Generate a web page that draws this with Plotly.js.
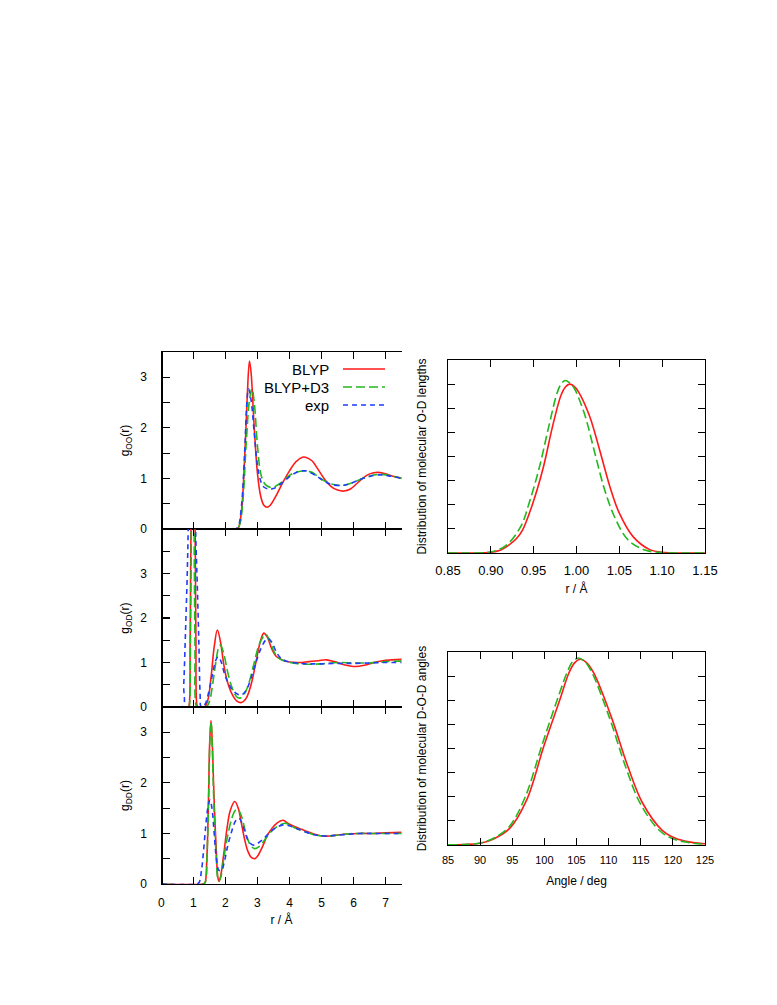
<!DOCTYPE html>
<html>
<head>
<meta charset="utf-8">
<script src="https://cdn.plot.ly/plotly-3.0.1.min.js"></script>
<style>html,body{margin:0;padding:0;background:#fff;}#chart{width:777px;height:1005px;}</style>
</head>
<body>
<div id="chart"></div>
<script>
// ---------- data ----------
const seriesNames = ['BLYP', 'BLYP+D3', 'exp'];

// g_OO(r)
const rOO_blyp = [0, 2.3, 2.4, 2.5, 2.6, 2.68, 2.75, 2.8, 2.9, 3.0, 3.1, 3.2, 3.3, 3.4, 3.6, 3.8, 4.0, 4.2, 4.4, 4.5, 4.7, 4.9, 5.1, 5.3, 5.5, 5.7, 5.9, 6.1, 6.3, 6.5, 6.75, 7.0, 7.2, 7.5];
const gOO_blyp = [0, 0, 0.02, 0.35, 1.4, 2.6, 3.32, 3.1, 2.0, 1.1, 0.65, 0.47, 0.43, 0.47, 0.68, 0.93, 1.15, 1.33, 1.42, 1.42, 1.35, 1.17, 0.98, 0.84, 0.77, 0.75, 0.79, 0.9, 1.01, 1.09, 1.12, 1.09, 1.05, 1.01];
const rOO_d3 = [0, 2.35, 2.45, 2.55, 2.65, 2.75, 2.83, 2.9, 3.0, 3.1, 3.2, 3.3, 3.45, 3.6, 3.8, 4.0, 4.2, 4.45, 4.7, 4.9, 5.1, 5.3, 5.6, 5.9, 6.2, 6.5, 6.8, 7.1, 7.5];
const gOO_d3 = [0, 0, 0.1, 0.6, 1.7, 2.55, 2.77, 2.5, 1.65, 1.1, 0.92, 0.85, 0.82, 0.86, 0.95, 1.06, 1.12, 1.15, 1.12, 1.03, 0.95, 0.89, 0.86, 0.9, 0.98, 1.05, 1.08, 1.06, 1.0];
const rOO_exp = [0, 2.3, 2.4, 2.5, 2.6, 2.67, 2.72, 2.8, 2.9, 3.0, 3.1, 3.2, 3.35, 3.5, 3.7, 3.9, 4.1, 4.3, 4.5, 4.7, 4.9, 5.1, 5.3, 5.6, 5.9, 6.2, 6.5, 6.8, 7.1, 7.5];
const gOO_exp = [0, 0, 0.05, 0.45, 1.5, 2.5, 2.77, 2.55, 1.9, 1.25, 0.95, 0.83, 0.79, 0.8, 0.88, 0.98, 1.08, 1.14, 1.15, 1.1, 1.02, 0.94, 0.88, 0.86, 0.9, 0.98, 1.04, 1.07, 1.05, 1.0];

// g_OD(r)
const rOD_blyp = [0, 0.84, 0.87, 0.9, 0.93, 0.97, 0.99, 1.01, 1.05, 1.08, 1.11, 1.14, 1.35, 1.45, 1.55, 1.65, 1.75, 1.85, 1.95, 2.05, 2.2, 2.35, 2.5, 2.65, 2.8, 2.95, 3.1, 3.2, 3.3, 3.45, 3.6, 3.8, 4.0, 4.3, 4.6, 4.9, 5.15, 5.4, 5.7, 6.05, 6.35, 6.7, 7.0, 7.5];
const gOD_blyp = [0, 0, 0.05, 1.5, 4.5, 15, 18, 15, 4.5, 1.5, 0.05, 0, 0, 0.15, 0.65, 1.35, 1.73, 1.45, 0.95, 0.6, 0.3, 0.14, 0.1, 0.2, 0.5, 1.0, 1.5, 1.66, 1.58, 1.3, 1.13, 1.05, 1.01, 1.0, 1.02, 1.04, 1.06, 1.02, 0.95, 0.91, 0.94, 1.01, 1.05, 1.07];
const rOD_d3 = [0, 0.86, 0.88, 0.91, 0.94, 0.98, 1.02, 1.05, 1.08, 1.12, 1.4, 1.5, 1.6, 1.7, 1.8, 1.85, 1.95, 2.05, 2.2, 2.35, 2.45, 2.6, 2.75, 2.9, 3.05, 3.2, 3.27, 3.4, 3.55, 3.7, 3.9, 4.2, 4.6, 5.0, 5.5, 6.0, 6.5, 7.0, 7.5];
const gOD_d3 = [0, 0, 0.05, 1.5, 4.5, 18, 4.5, 1.5, 0.05, 0, 0, 0.12, 0.5, 1.0, 1.36, 1.39, 1.2, 0.85, 0.45, 0.23, 0.2, 0.3, 0.58, 1.0, 1.4, 1.6, 1.63, 1.45, 1.2, 1.08, 1.02, 0.98, 0.96, 0.97, 1.0, 0.99, 0.99, 1.02, 1.03];
const rOD_exp = [0, 0.66, 0.7, 0.76, 0.81, 0.84, 0.96, 1.07, 1.12, 1.17, 1.21, 1.24, 1.3, 1.38, 1.5, 1.6, 1.7, 1.77, 1.85, 1.95, 2.05, 2.2, 2.35, 2.5, 2.65, 2.8, 2.95, 3.1, 3.25, 3.33, 3.45, 3.6, 3.75, 3.9, 4.2, 4.6, 5.0, 5.5, 6.0, 6.5, 7.0, 7.5];
const gOD_exp = [0, 0, 0.5, 1.8, 3.0, 4.0, 9.0, 4.0, 2.8, 1.5, 0.3, 0, 0, 0.08, 0.4, 0.75, 1.05, 1.13, 1.05, 0.8, 0.6, 0.4, 0.3, 0.27, 0.38, 0.65, 1.0, 1.3, 1.5, 1.54, 1.45, 1.22, 1.08, 1.03, 0.99, 0.97, 0.97, 0.98, 0.98, 0.99, 1.0, 1.0];

// g_DD(r)
const rDD_blyp = [0, 1.3, 1.36, 1.42, 1.47, 1.51, 1.55, 1.59, 1.63, 1.67, 1.72, 1.76, 1.8, 1.85, 1.95, 2.05, 2.15, 2.29, 2.4, 2.5, 2.6, 2.7, 2.8, 2.91, 3.0, 3.15, 3.3, 3.45, 3.6, 3.8, 3.95, 4.1, 4.3, 4.5, 4.75, 5.0, 5.25, 5.5, 5.8, 6.2, 6.6, 7.0, 7.5];
const gDD_blyp = [0, 0, 0.02, 0.5, 1.6, 2.8, 3.23, 2.8, 2.0, 1.3, 0.6, 0.15, 0.05, 0.15, 0.6, 1.1, 1.45, 1.63, 1.5, 1.2, 0.88, 0.65, 0.53, 0.5, 0.55, 0.73, 0.95, 1.1, 1.2, 1.26, 1.2, 1.15, 1.1, 1.05, 0.99, 0.95, 0.95, 0.97, 0.99, 1.0, 1.0, 1.01, 1.02];
const rDD_d3 = [0, 1.32, 1.38, 1.43, 1.48, 1.52, 1.555, 1.59, 1.63, 1.67, 1.72, 1.76, 1.8, 1.86, 1.96, 2.07, 2.2, 2.3, 2.38, 2.48, 2.6, 2.7, 2.8, 2.91, 3.05, 3.2, 3.4, 3.6, 3.85, 4.0, 4.2, 4.5, 4.8, 5.1, 5.4, 5.8, 6.2, 6.6, 7.0, 7.5];
const gDD_d3 = [0, 0, 0.05, 0.6, 1.8, 2.9, 3.2, 2.7, 1.8, 1.1, 0.45, 0.12, 0.06, 0.15, 0.55, 0.95, 1.3, 1.45, 1.48, 1.38, 1.1, 0.88, 0.75, 0.7, 0.74, 0.85, 1.02, 1.13, 1.2, 1.17, 1.1, 1.03, 0.97, 0.95, 0.96, 0.99, 1.0, 1.0, 1.0, 1.0];
const rDD_exp = [0, 1.1, 1.18, 1.25, 1.31, 1.38, 1.45, 1.52, 1.58, 1.65, 1.72, 1.8, 1.88, 1.97, 2.07, 2.2, 2.32, 2.42, 2.52, 2.62, 2.72, 2.86, 3.0, 3.2, 3.4, 3.6, 3.8, 4.0, 4.2, 4.5, 4.8, 5.1, 5.4, 5.8, 6.2, 6.6, 7.0, 7.5];
const gDD_exp = [0, 0, 0.03, 0.25, 0.6, 1.1, 1.5, 1.66, 1.5, 1.0, 0.5, 0.27, 0.27, 0.45, 0.75, 1.05, 1.25, 1.3, 1.2, 1.0, 0.85, 0.77, 0.8, 0.9, 1.03, 1.12, 1.17, 1.15, 1.1, 1.03, 0.97, 0.95, 0.96, 0.98, 1.0, 1.0, 1.0, 1.0];

// O-D bond length distribution (arbitrary units)
const len_blyp = [0.85, 0.88, 0.9, 0.91, 0.921, 0.93, 0.937, 0.949, 0.961, 0.972, 0.982, 0.987, 0.992, 0.997, 1.002, 1.015, 1.027, 1.039, 1.05, 1.066, 1.085, 1.103, 1.12, 1.15];
const pLen_blyp = [0, 0, 0.03, 0.1, 0.33, 0.6, 0.95, 2.06, 3.51, 5.24, 6.55, 6.88, 7.0, 6.92, 6.7, 5.7, 4.27, 2.75, 1.65, 0.68, 0.15, 0.02, 0, 0];
const len_d3 = [0.85, 0.88, 0.895, 0.908, 0.92, 0.935, 0.945, 0.957, 0.968, 0.978, 0.983, 0.987, 0.992, 0.997, 1.009, 1.021, 1.033, 1.045, 1.06, 1.08, 1.1, 1.12, 1.15];
const pLen_d3 = [0, 0, 0.02, 0.12, 0.38, 1.1, 2.1, 3.6, 5.3, 6.7, 7.05, 7.15, 7.05, 6.85, 5.8, 4.2, 2.6, 1.45, 0.55, 0.12, 0.02, 0, 0];

// D-O-D angle distribution (arbitrary units)
const ang_blyp = [85, 87.5, 90, 92, 94.6, 97.25, 99.9, 102.5, 103.8, 104.7, 105.6, 106.6, 107.7, 110.4, 113.0, 115.3, 118.3, 120.4, 122.5, 125];
const pAng_blyp = [0.005, 0.02, 0.07, 0.24, 0.69, 1.87, 4.08, 6.09, 7.12, 7.55, 7.7, 7.55, 7.12, 5.32, 3.25, 1.73, 0.62, 0.28, 0.13, 0.05];
const ang_d3 = [85, 87.5, 90, 92, 94.5, 97, 99.7, 102.3, 103.6, 104.4, 105.3, 106.3, 107.4, 110.1, 112.7, 115.0, 118.0, 120.2, 122.5, 125];
const pAng_d3 = [0.005, 0.02, 0.08, 0.27, 0.75, 1.98, 4.2, 6.25, 7.2, 7.6, 7.75, 7.6, 7.15, 5.3, 3.2, 1.68, 0.58, 0.24, 0.1, 0.03];

const leftYLabelled = [0, 1, 2, 3];
const lenTicks = [0.85, 0.90, 0.95, 1.00, 1.05, 1.10, 1.15];
const lenTickText = ['0.85', '0.90', '0.95', '1.00', '1.05', '1.10', '1.15'];

// ---------- styles ----------
const colors = ['#ff1a1a', '#22b81e', '#1f3cff'];
const dashes = ['solid', '9px,4px', '5px,4px'];
const FONT = 'Liberation Sans, Arial, Helvetica, sans-serif';

function tr(x, y, i, xa, ya) {
  return {
    x: x, y: y, xaxis: xa, yaxis: ya, type: 'scatter', mode: 'lines',
    name: seriesNames[i], showlegend: false,
    line: {color: colors[i], width: 1.6, dash: dashes[i], shape: 'spline', smoothing: 1.0}
  };
}

const data = [
  tr(rOO_blyp, gOO_blyp, 0, 'x', 'y'), tr(rOO_d3, gOO_d3, 1, 'x', 'y'), tr(rOO_exp, gOO_exp, 2, 'x', 'y'),
  tr(rOD_blyp, gOD_blyp, 0, 'x2', 'y2'), tr(rOD_d3, gOD_d3, 1, 'x2', 'y2'), tr(rOD_exp, gOD_exp, 2, 'x2', 'y2'),
  tr(rDD_blyp, gDD_blyp, 0, 'x3', 'y3'), tr(rDD_d3, gDD_d3, 1, 'x3', 'y3'), tr(rDD_exp, gDD_exp, 2, 'x3', 'y3'),
  tr(len_blyp, pLen_blyp, 0, 'x4', 'y4'), tr(len_d3, pLen_d3, 1, 'x4', 'y4'),
  tr(ang_blyp, pAng_blyp, 0, 'x5', 'y5'), tr(ang_d3, pAng_d3, 1, 'x5', 'y5')
];

const W = 777, H = 1005;
const px = v => v / W;
const py = v => 1 - v / H;

const baseAxis = {
  showgrid: false, zeroline: false, showline: true, linecolor: '#000', linewidth: 1.2,
  mirror: 'ticks', ticks: 'inside', ticklen: 7, tickwidth: 1.2, tickcolor: '#000',
  tickfont: {family: FONT, size: 12, color: '#000'}
};

const leftX = [px(161.3), px(401.7)];
const rightX = [px(448), px(705)];

function lx(anchor, labels) {
  return Object.assign({}, baseAxis, {
    domain: leftX, range: [0, 7.5], anchor: anchor, tickmode: 'linear', tick0: 0, dtick: 1,
    showticklabels: labels, ticklabelstandoff: 7
  });
}
function ly(domain, range, title) {
  return Object.assign({}, baseAxis, {
    domain: domain, range: range, anchor: 'free', position: leftX[0],
    tickmode: 'array', tickvals: leftYLabelled, ticklabelstandoff: 12,
    minor: {tickmode: 'linear', tick0: 0, dtick: 0.5, ticks: 'inside', ticklen: 7, tickwidth: 1.2, tickcolor: '#000', showgrid: false},
    title: {text: title, font: {family: FONT, size: 12, color: '#000'}, standoff: 6}
  });
}

const layout = {
  width: W, height: H, margin: {l: 0, r: 0, t: 0, b: 0},
  paper_bgcolor: '#fff', plot_bgcolor: '#fff', showlegend: false,
  font: {family: FONT, color: '#000'},
  xaxis: lx('y', false),
  xaxis2: lx('y2', false),
  xaxis3: Object.assign(lx('y3', true), {title: {text: 'r / Å', font: {family: FONT, size: 12, color: '#000'}, standoff: 7}}),
  yaxis: ly([py(529), py(352)], [0, 3.5], 'g<sub>OO</sub>(r)'),
  yaxis2: ly([py(707), py(529)], [0, 4], 'g<sub>OD</sub>(r)'),
  yaxis3: ly([py(884), py(707)], [0, 3.5], 'g<sub>DD</sub>(r)'),
  xaxis4: Object.assign({}, baseAxis, {
    domain: rightX, range: [0.85, 1.15], anchor: 'y4', tickmode: 'array', tickvals: lenTicks, ticktext: lenTickText,
    tickfont: {family: FONT, size: 13, color: '#000'}, ticklabelstandoff: 5,
    title: {text: 'r / Å', font: {family: FONT, size: 12, color: '#000'}, standoff: 7}
  }),
  yaxis4: Object.assign({}, baseAxis, {
    domain: [py(553), py(360)], range: [0, 8], anchor: 'x4', tickmode: 'linear', tick0: 0, dtick: 1,
    showticklabels: false,
    title: {text: 'Distribution of molecular O-D lengths', font: {family: FONT, size: 12, color: '#000'}, standoff: 17}
  }),
  xaxis5: Object.assign({}, baseAxis, {
    domain: rightX, range: [85, 125], anchor: 'y5', tickmode: 'linear', tick0: 85, dtick: 5,
    tickfont: {family: FONT, size: 11, color: '#000'}, ticklabelstandoff: 5,
    title: {text: 'Angle / deg', font: {family: FONT, size: 12, color: '#000'}, standoff: 11}
  }),
  yaxis5: Object.assign({}, baseAxis, {
    domain: [py(845), py(652)], range: [0, 8], anchor: 'x5', tickmode: 'linear', tick0: 0, dtick: 1,
    showticklabels: false,
    title: {text: 'Distribution of molecular D-O-D angles', font: {family: FONT, size: 12, color: '#000'}, standoff: 17}
  }),
  annotations: seriesNames.map((n, i) => ({
    xref: 'paper', yref: 'paper', x: px(331), y: py(369 + i * 18), xanchor: 'right', yanchor: 'middle',
    text: n, showarrow: false, font: {family: FONT, size: 15, color: '#000'}
  })),
  shapes: seriesNames.map((n, i) => ({
    type: 'line', xref: 'paper', yref: 'paper', x0: px(343), x1: px(385),
    y0: py(369 + i * 18), y1: py(369 + i * 18),
    line: {color: colors[i], width: 1.6, dash: dashes[i]}
  }))
};

Plotly.newPlot('chart', data, layout, {staticPlot: true, displayModeBar: false});
</script>
</body>
</html>
